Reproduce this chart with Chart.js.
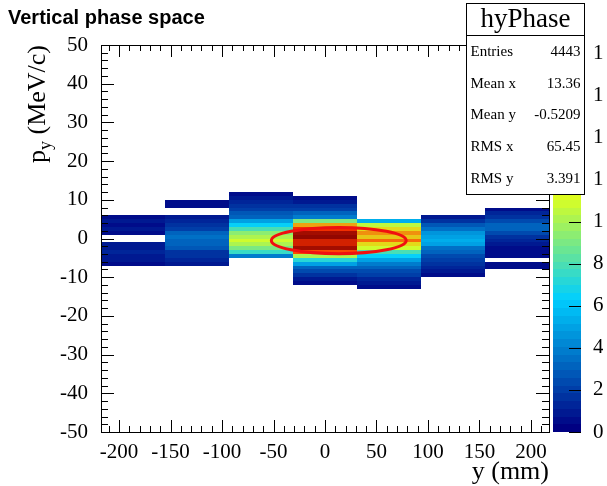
<!DOCTYPE html>
<html>
<head>
<meta charset="utf-8">
<script src="https://cdn.jsdelivr.net/npm/chart.js@4/dist/chart.umd.min.js"></script>
<style>
  html, body { margin: 0; padding: 0; background: #fff; }
</style>
</head>
<body>
<canvas id="myChart" width="607" height="486"></canvas>
<script>
// histogram hyPhase: 7 bins in y (mm), 1 MeV/c bins in p_y
const xBinEdges = [-217.5, -155.36, -93.21, -31.07, 31.07, 93.21, 155.36, 217.5];
// upper edge (p_y) of the first listed bin of each column, counts listed going down
const colTop = [6, 10, 12, 11, 5, 6, 8];
const col1 = [0.6, 0.8, 0.6, 0.8, 0.5, 0, 0, 0.8, 1.0, 1.2, 0.9, 1.0, 0.6];
const col2 = [0.6, 0.6, 0, 0, 1.0, 1.3, 1.5, 2.0, 3.0, 3.4, 3.0, 3.2, 2.6, 1.8, 1.5, 1.2, 0.9];
const col3 = [0.6, 0.8, 1.3, 1.6, 2.2, 2.6, 3.2, 4.8, 6.5, 8.0, 9.5, 10.0, 11.0, 10.2, 9.0, 7.5, 4.0];
const col4 = [0.7, 1.0, 1.5, 2.2, 3.0, 4.0, 9.0, 13.0, 15.5, 17.5, 17.8, 16.2, 16.5, 17.5, 15.0, 10.0,
              7.0, 5.0, 3.2, 2.4, 1.6, 1.0, 0.7];
const col5 = [5.5, 10.5, 12.0, 13.5, 12.5, 14.0, 12.0, 11.0, 8.0, 6.5, 5.0, 4.0, 3.2, 2.5, 2.0, 1.4, 1.0, 0.7];
const col6 = [0.8, 1.5, 2.6, 3.5, 4.5, 5.0, 5.2, 5.0, 3.5, 3.0, 2.4, 2.0, 1.5, 1.2, 0.8, 0.6];
const col7 = [0.7, 1.3, 1.6, 2.4, 3.0, 3.2, 2.4, 1.6, 1.3, 0.8, 0.7, 0.6, 0.6, 0, 0.6, 0.5];
const colCounts = [col1, col2, col3, col4, col5, col6, col7];
const zMax = 18.4;
const zTicks = [0, 2, 4, 6, 8, 10, 12, 14, 16, 18];

const statsLabels = ['Entries', 'Mean x', 'Mean y', 'RMS x', 'RMS y'];
const statsValues = ['4443', '13.36', '-0.5209', '65.45', '3.391'];
const meanX = 13.36, meanY = -0.5209, rmsX = 65.45, rmsY = 3.391;

// ROOT "pretty" palette, 50 colours
const palStops = [0.00, 0.34, 0.61, 0.84, 1.00];
const palRed   = [0.00, 0.00, 0.87, 1.00, 0.51];
const palGreen = [0.00, 0.81, 1.00, 0.20, 0.00];
const palBlue  = [0.51, 1.00, 0.12, 0.00, 0.00];
const nCol = 50;

function paletteColor(k) {
  const t = k / (nCol - 1);
  let s = 0;
  while (s < palStops.length - 2 && t > palStops[s + 1]) s++;
  const f = (t - palStops[s]) / (palStops[s + 1] - palStops[s]);
  const c = a => Math.round(255 * (a[s] + (a[s + 1] - a[s]) * f));
  return 'rgb(' + c(palRed) + ',' + c(palGreen) + ',' + c(palBlue) + ')';
}
function zColor(z) {
  let k = Math.floor(z / zMax * nCol);
  k = Math.max(0, Math.min(nCol - 1, k));
  return paletteColor(k);
}

const serif = "'Liberation Serif', 'Times New Roman', serif";

const rootPlot = {
  id: 'rootPlot',
  afterDraw(chart) {
    const ctx = chart.ctx, xs = chart.scales.x, ys = chart.scales.y, zs = chart.scales.z;
    const ca = chart.chartArea;
    ctx.save();

    // cells
    for (let i = 0; i < colCounts.length; i++) {
      const xa = Math.round(xs.getPixelForValue(xBinEdges[i]));
      const xb = Math.round(xs.getPixelForValue(xBinEdges[i + 1]));
      colCounts[i].forEach((z, j) => {
        if (z <= 0) return;
        const ya = Math.round(ys.getPixelForValue(colTop[i] - j));
        const yb = Math.round(ys.getPixelForValue(colTop[i] - j - 1));
        ctx.fillStyle = zColor(z);
        ctx.fillRect(xa, ya, xb - xa, yb - ya);
      });
    }

    // ellipse mean +- rms
    const cx = xs.getPixelForValue(meanX), cy = ys.getPixelForValue(meanY);
    const rx = xs.getPixelForValue(meanX + rmsX) - cx;
    const ry = ys.getPixelForValue(meanY - rmsY) - cy;
    ctx.beginPath();
    ctx.ellipse(cx, cy, rx, ry, 0, 0, Math.PI * 2);
    ctx.strokeStyle = '#f01010';
    ctx.lineWidth = 3;
    ctx.stroke();

    // inside ticks
    ctx.strokeStyle = '#000';
    ctx.lineWidth = 1;
    ctx.beginPath();
    for (let v = -210; v <= 210; v += 10) {
      const px = Math.round(xs.getPixelForValue(v)) + 0.5;
      const len = v % 50 === 0 ? 12 : 6;
      ctx.moveTo(px, ca.bottom); ctx.lineTo(px, ca.bottom - len);
      ctx.moveTo(px, ca.top); ctx.lineTo(px, ca.top + len);
    }
    for (let v = -50; v <= 50; v += 2) {
      const py = Math.round(ys.getPixelForValue(v)) + 0.5;
      const len = v % 10 === 0 ? 13 : 7;
      ctx.moveTo(ca.left, py); ctx.lineTo(ca.left + len, py);
      ctx.moveTo(ca.right, py); ctx.lineTo(ca.right - len, py);
    }
    ctx.stroke();
    ctx.strokeRect(Math.round(ca.left) + 0.5, Math.round(ca.top) + 0.5,
                   Math.round(ca.right - ca.left), Math.round(ca.bottom - ca.top));

    // colour bar
    const bx0 = ca.right + 4, bx1 = ca.right + 32;
    for (let k = 0; k < nCol; k++) {
      const ya = Math.round(zs.getPixelForValue((k + 1) * zMax / nCol));
      const yb = Math.round(zs.getPixelForValue(k * zMax / nCol));
      ctx.fillStyle = paletteColor(k);
      ctx.fillRect(bx0, ya, bx1 - bx0, yb - ya);
    }
    ctx.beginPath();
    zTicks.forEach(v => {
      const py = Math.round(zs.getPixelForValue(v)) + 0.5;
      ctx.moveTo(bx1, py); ctx.lineTo(bx1 - 12, py);
    });
    ctx.stroke();
    ctx.save();
    ctx.beginPath();
    ctx.rect(bx1, 0, 603 - bx1, chart.height);
    ctx.clip();
    ctx.fillStyle = '#000';
    ctx.font = '21px ' + serif;
    ctx.textAlign = 'left';
    ctx.textBaseline = 'middle';
    zTicks.forEach(v => ctx.fillText(String(v), bx1 + 12, zs.getPixelForValue(v)));
    ctx.restore();

    // axis titles
    ctx.fillStyle = '#000';
    ctx.font = '26px ' + serif;
    ctx.textAlign = 'right';
    ctx.textBaseline = 'alphabetic';
    ctx.fillText('y (mm)', ca.right, 479);

    ctx.save();
    ctx.translate(45, ca.top);
    ctx.rotate(-Math.PI / 2);
    ctx.textAlign = 'left';
    const tail = ' (MeV/c)';
    ctx.font = '26px ' + serif;
    const wP = ctx.measureText('p').width, wT = ctx.measureText(tail).width;
    ctx.font = '18px ' + serif;
    const wY = ctx.measureText('y').width;
    let tx = -(wP + wY + wT);
    ctx.font = '26px ' + serif;
    ctx.fillText('p', tx, 0);
    ctx.font = '18px ' + serif;
    ctx.fillText('y', tx + wP, 6);
    ctx.font = '26px ' + serif;
    ctx.fillText(tail, tx + wP + wY, 0);
    ctx.restore();

    // histogram title
    ctx.font = "bold 20px 'Liberation Sans', Arial, sans-serif";
    ctx.textAlign = 'left';
    ctx.fillText('Vertical phase space', 8, 24);

    // stats box
    const sx0 = 466.5, sx1 = 584.5, sy0 = 3.5, sy1 = 194.5;
    ctx.fillStyle = '#fff';
    ctx.fillRect(sx0, sy0, sx1 - sx0, sy1 - sy0);
    ctx.strokeStyle = '#000';
    ctx.strokeRect(sx0, sy0, sx1 - sx0, sy1 - sy0);
    ctx.beginPath();
    ctx.moveTo(sx0, 35.5); ctx.lineTo(sx1, 35.5);
    ctx.stroke();
    ctx.fillStyle = '#000';
    ctx.font = '27px ' + serif;
    ctx.textAlign = 'center';
    ctx.textBaseline = 'middle';
    ctx.fillText('hyPhase', (sx0 + sx1) / 2, 20);
    ctx.font = '15px ' + serif;
    statsLabels.forEach((lab, i) => {
      const ty = 52 + i * 31.7;
      ctx.textAlign = 'left';
      ctx.fillText(lab, sx0 + 4, ty);
      ctx.textAlign = 'right';
      ctx.fillText(statsValues[i], sx1 - 4, ty);
    });

    ctx.restore();
  }
};

const config = {
  type: 'scatter',
  data: { datasets: [{ data: [] }] },
  options: {
    responsive: false,
    animation: false,
    layout: { padding: { top: 45, right: 58, left: 0, bottom: 0 } },
    plugins: { legend: { display: false }, tooltip: { enabled: false } },
    scales: {
      x: {
        type: 'linear', min: -217.5, max: 217.5,
        afterFit: s => { s.height = 54; },
        grid: { display: false, drawTicks: false },
        border: { display: false },
        ticks: { stepSize: 50, includeBounds: false, autoSkip: false, maxRotation: 0, padding: 8,
                 color: '#000', font: { family: serif, size: 21 } }
      },
      y: {
        type: 'linear', min: -50, max: 50,
        afterFit: s => { s.width = 101; },
        grid: { display: false, drawTicks: false },
        border: { display: false },
        ticks: { stepSize: 10, includeBounds: false, autoSkip: false, padding: 13,
                 color: '#000', font: { family: serif, size: 21 } }
      },
      z: { type: 'linear', axis: 'y', position: 'right', display: false, min: 0, max: zMax }
    }
  },
  plugins: [rootPlot]
};

var ctx = document.getElementById('myChart').getContext('2d');
grafica = new Chart(ctx, config);
</script>
</body>
</html>
